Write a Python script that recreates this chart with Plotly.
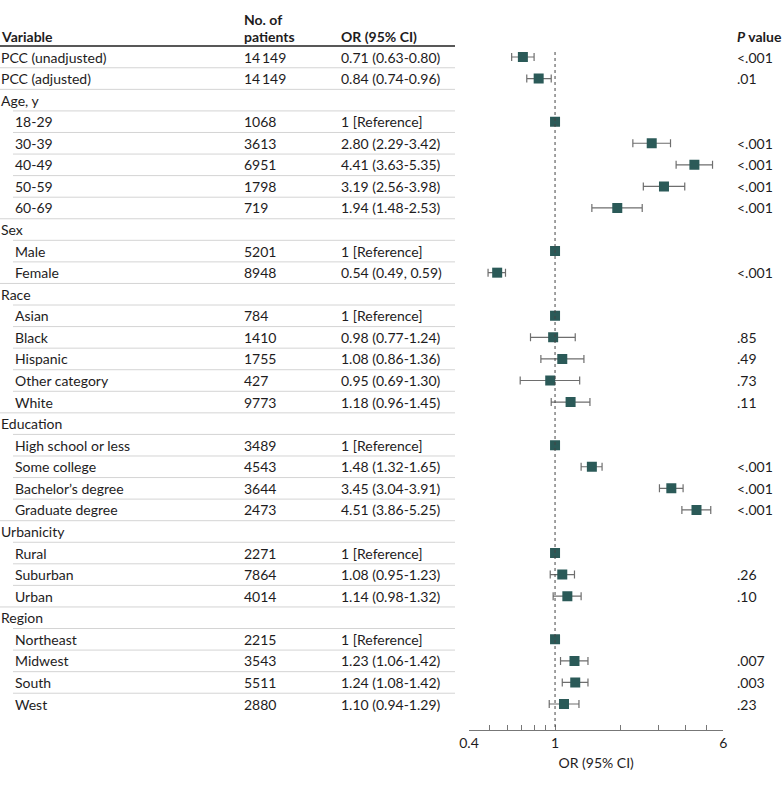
import math
import plotly.graph_objects as go

W, H = 783, 785

labels = ["PCC (unadjusted)", "PCC (adjusted)", "Age, y", "18-29", "30-39", "40-49", "50-59", "60-69",
          "Sex", "Male", "Female", "Race", "Asian", "Black", "Hispanic", "Other category", "White",
          "Education", "High school or less", "Some college", "Bachelor’s degree", "Graduate degree",
          "Urbanicity", "Rural", "Suburban", "Urban", "Region", "Northeast", "Midwest", "South", "West"]
indented = [0, 0, 0, 1, 1, 1, 1, 1, 0, 1, 1, 0, 1, 1, 1, 1, 1, 0, 1, 1, 1, 1, 0, 1, 1, 1, 0, 1, 1, 1, 1]
n_patients = ["14\u2009149", "14\u2009149", "", "1068", "3613", "6951", "1798", "719", "", "5201", "8948", "",
              "784", "1410", "1755", "427", "9773", "", "3489", "4543", "3644", "2473", "", "2271", "7864",
              "4014", "", "2215", "3543", "5511", "2880"]
or_text = ["0.71 (0.63-0.80)", "0.84 (0.74-0.96)", "", "1 [Reference]", "2.80 (2.29-3.42)", "4.41 (3.63-5.35)",
           "3.19 (2.56-3.98)", "1.94 (1.48-2.53)", "", "1 [Reference]", "0.54 (0.49, 0.59)", "",
           "1 [Reference]", "0.98 (0.77-1.24)", "1.08 (0.86-1.36)", "0.95 (0.69-1.30)", "1.18 (0.96-1.45)", "",
           "1 [Reference]", "1.48 (1.32-1.65)", "3.45 (3.04-3.91)", "4.51 (3.86-5.25)", "",
           "1 [Reference]", "1.08 (0.95-1.23)", "1.14 (0.98-1.32)", "",
           "1 [Reference]", "1.23 (1.06-1.42)", "1.24 (1.08-1.42)", "1.10 (0.94-1.29)"]
or_val = [0.71, 0.84, None, 1, 2.80, 4.41, 3.19, 1.94, None, 1, 0.54, None, 1, 0.98, 1.08, 0.95, 1.18,
          None, 1, 1.48, 3.45, 4.51, None, 1, 1.08, 1.14, None, 1, 1.23, 1.24, 1.10]
ci_lo = [0.63, 0.74, None, None, 2.29, 3.63, 2.56, 1.48, None, None, 0.49, None, None, 0.77, 0.86, 0.69, 0.96,
         None, None, 1.32, 3.04, 3.86, None, None, 0.95, 0.98, None, None, 1.06, 1.08, 0.94]
ci_hi = [0.80, 0.96, None, None, 3.42, 5.35, 3.98, 2.53, None, None, 0.59, None, None, 1.24, 1.36, 1.30, 1.45,
         None, None, 1.65, 3.91, 5.25, None, None, 1.23, 1.32, None, None, 1.42, 1.42, 1.29]
p_values = ["<.001", ".01", "", "", "<.001", "<.001", "<.001", "<.001", "", "", "<.001", "", "", ".85", ".49",
            ".73", ".11", "", "", "<.001", "<.001", "<.001", "", "", ".26", ".10", "", "", ".007", ".003", ".23"]
tick_vals = [0.4, 0.5, 0.6, 0.7, 0.8, 0.9, 1, 2, 3, 4, 5, 6]
tick_text = ["0.4", "", "", "", "", "", "1", "", "", "", "", "6"]

FONT = "Lato"
FS = 14
TXT = "#1e1c1d"
MARK = "#2b5a58"
BAR = "#6e6e6e"

# geometry
row0_px, row_step = 57.0, 21.567
axis_px = 730.0
y_top = (0 - row0_px) / row_step
y_bot = (axis_px - row0_px) / row_step
def py(px):
    return (px - row0_px) / row_step

rows = list(range(len(labels)))

fig = go.Figure()

ci_rows = [i for i in rows if ci_lo[i] is not None]
fig.add_trace(go.Scatter(
    x=[or_val[i] for i in ci_rows], y=ci_rows, mode="markers",
    marker=dict(symbol="square", size=10, color=MARK),
    error_x=dict(type="data", symmetric=False,
                 array=[ci_hi[i] - or_val[i] for i in ci_rows],
                 arrayminus=[or_val[i] - ci_lo[i] for i in ci_rows],
                 color=BAR, thickness=1.2, width=4),
    hoverinfo="skip", showlegend=False))
ref_rows = [i for i in rows if or_val[i] is not None and ci_lo[i] is None]
fig.add_trace(go.Scatter(
    x=[or_val[i] for i in ref_rows], y=ref_rows, mode="markers",
    marker=dict(symbol="square", size=10, color=MARK),
    hoverinfo="skip", showlegend=False))

ann = []
def text(xpx, y, s, **kw):
    d = dict(x=xpx / W, xref="paper", y=y, yref="y", text=s, showarrow=False,
             xanchor="left", yanchor="middle", borderpad=0,
             font=dict(family=FONT, size=FS, color=TXT))
    d.update(kw)
    ann.append(d)

for i in rows:
    text(14 if indented[i] else 0, i, labels[i])
    if n_patients[i]:
        text(243, i, n_patients[i])
    if or_text[i]:
        text(340, i, or_text[i])
    if p_values[i]:
        text(736, i, p_values[i])

# header
text(0, py(36.5), "<b>Variable</b>")
text(243, py(19), "<b>No. of</b>")
text(243, py(36.5), "<b>patients</b>")
text(340, py(36.5), "<b>OR (95% CI)</b>")
text(736, py(36.5), "<b><i>P</i> value</b>")

shapes = []
shapes.append(dict(type="line", xref="paper", yref="y", x0=0, x1=455 / W, y0=py(46), y1=py(46),
                   line=dict(color="#585858", width=2)))
for i in range(len(labels) - 1):
    x0 = 13 if indented[i + 1] else 0
    shapes.append(dict(type="line", xref="paper", yref="y", x0=x0 / W, x1=455 / W, y0=i + 0.5, y1=i + 0.5,
                       line=dict(color="#d4d4d4", width=1)))
shapes.append(dict(type="line", xref="x", yref="y", x0=1, x1=1, y0=py(52), y1=y_bot,
                   line=dict(color="#444444", width=1, dash="dot")))
fig.update_layout(shapes=shapes, annotations=ann)

fig.update_layout(
    width=W, height=H, margin=dict(l=0, r=0, t=0, b=0, pad=0, autoexpand=False),
    paper_bgcolor="white", plot_bgcolor="white",
    font=dict(family=FONT, size=FS, color=TXT),
    xaxis=dict(type="log", range=[math.log10(0.4), math.log10(6)],
               domain=[469 / W, 723.3 / W], automargin=False,
               tickvals=tick_vals, ticktext=tick_text, ticks="inside", ticklen=5,
               tickcolor="#777777", showline=True, linecolor="#777777", linewidth=1,
               showgrid=False, zeroline=False,
               tickfont=dict(family=FONT, size=FS, color=TXT),
               title=dict(text="OR (95% CI)", standoff=8, font=dict(family=FONT, size=FS, color=TXT))),
    yaxis=dict(range=[y_bot, y_top], domain=[1 - axis_px / H, 1], automargin=False,
               showgrid=False, zeroline=False, showticklabels=False, showline=False, ticks=""),
)

fig.write_html("out.html", config={"displayModeBar": False},
               post_script="document.body.style.margin='0px';document.body.style.overflow='hidden';")
